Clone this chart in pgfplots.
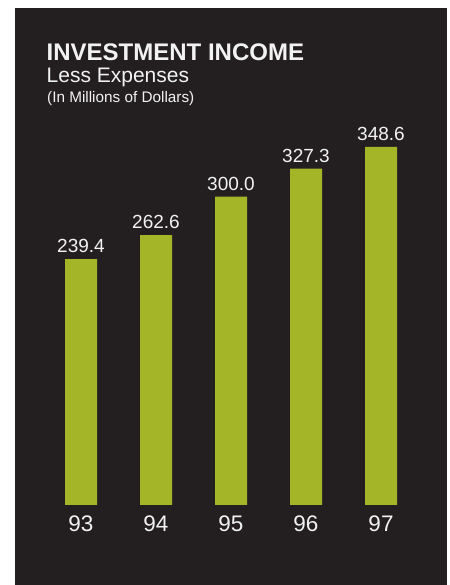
\documentclass[border=0pt]{standalone}
\usepackage{pgfplots}
\pgfplotsset{compat=1.18}
\usepackage{fontspec}
\setmainfont{Liberation Sans}
\definecolor{bg}{HTML}{231F20}
\definecolor{bar}{HTML}{A4B628}
\definecolor{txt}{HTML}{F2F2F2}
\begin{document}
\begin{tikzpicture}
\useasboundingbox (0,0) rectangle (450bp,585bp);
\fill[white] (0,0) rectangle (450bp,585bp);
\fill[bg] (15bp,0) rectangle (447bp,577bp);
\node[anchor=base west, inner sep=0, text=txt] at (46.5bp,524bp) {\fontsize{24bp}{28bp}\selectfont\bfseries INVESTMENT INCOME};
\node[anchor=base west, inner sep=0, text=txt] at (46.5bp,502bp) {\fontsize{21bp}{25bp}\selectfont Less Expenses};
\node[anchor=base west, inner sep=0, text=txt] at (47bp,482.3bp) {\fontsize{15.3bp}{18bp}\selectfont (In Millions of Dollars)};
\begin{axis}[
  at={(43.5bp,80bp)}, anchor=south west,
  scale only axis, width=375bp, height=411bp,
  xmin=-0.5, xmax=4.5, ymin=0, ymax=400,
  axis line style={draw=none}, tick style={draw=none},
  ytick=\empty, xtick=data, xticklabels={93,94,95,96,97},
  xticklabel style={anchor=base, yshift=-22.5bp, text=txt, font=\fontsize{22.5bp}{26bp}\selectfont},
  ybar, bar width=32bp,
  nodes near coords,
  nodes near coords style={anchor=base, yshift=6.5bp, text=txt, font=\fontsize{19bp}{22bp}\selectfont,
    /pgf/number format/.cd, fixed, fixed zerofill, precision=1, assume math mode=true},
  clip=false,
]
\addplot[fill=bar, draw=none] coordinates {(0,239.4) (1,262.6) (2,300.0) (3,327.3) (4,348.6)};
\end{axis}
\end{tikzpicture}
\end{document}
